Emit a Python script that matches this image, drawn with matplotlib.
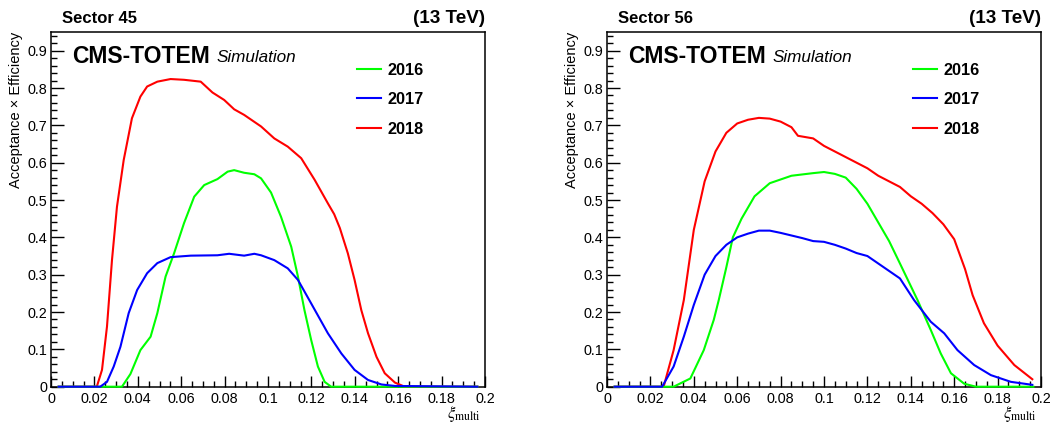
import matplotlib
matplotlib.use("Agg")
import matplotlib.pyplot as plt
from matplotlib.ticker import MultipleLocator, FuncFormatter

plt.rcParams['font.family'] = ['Liberation Sans', 'DejaVu Sans']
plt.rcParams['mathtext.fontset'] = 'stix'

years = ['2016', '2017', '2018']
colors = {'2016': '#00ff00', '2017': '#0000ff', '2018': '#ff0000'}
sectors = ['Sector 45', 'Sector 56']

# sector 45
s45_x_2018 = [0.0035, 0.02, 0.0211, 0.0235, 0.0258, 0.0281, 0.0304, 0.0335, 0.0373, 0.0412, 0.0443,
              0.049, 0.0551, 0.0613, 0.069, 0.0744, 0.0798, 0.0844, 0.089, 0.0968, 0.1029, 0.1091,
              0.1153, 0.1215, 0.1276, 0.1305, 0.1331, 0.1368, 0.1399, 0.143, 0.1461, 0.15, 0.1538,
              0.1585, 0.163, 0.1965]
s45_y_2018 = [0, 0, 0, 0.045, 0.161, 0.339, 0.482, 0.607, 0.719, 0.777, 0.804,
              0.817, 0.824, 0.822, 0.817, 0.788, 0.768, 0.743, 0.728, 0.697, 0.665, 0.643,
              0.612, 0.554, 0.491, 0.462, 0.425, 0.357, 0.286, 0.205, 0.143, 0.080, 0.036,
              0.011, 0, 0]
s45_x_2016 = [0.0035, 0.0327, 0.0366, 0.0412, 0.0459, 0.049, 0.0528, 0.0567, 0.0613, 0.066, 0.0706,
              0.0767, 0.0814, 0.0844, 0.089, 0.0937, 0.0968, 0.1014, 0.106, 0.1107, 0.1138, 0.1168,
              0.1199, 0.123, 0.1261, 0.1291, 0.1965]
s45_y_2016 = [0, 0, 0.034, 0.098, 0.134, 0.197, 0.295, 0.357, 0.438, 0.509, 0.540,
              0.556, 0.576, 0.580, 0.573, 0.569, 0.558, 0.52, 0.455, 0.375, 0.295, 0.205,
              0.125, 0.054, 0.013, 0, 0]
s45_x_2017 = [0.0035, 0.0227, 0.0258, 0.0289, 0.032, 0.0358, 0.0397, 0.0443, 0.049, 0.0551, 0.0644,
              0.0767, 0.0821, 0.089, 0.0937, 0.0968, 0.1029, 0.1091, 0.1138, 0.1199, 0.1276, 0.1338,
              0.1399, 0.1461, 0.1523, 0.1585, 0.1965]
s45_y_2017 = [0, 0, 0.013, 0.054, 0.107, 0.197, 0.259, 0.304, 0.331, 0.347, 0.351,
              0.352, 0.356, 0.351, 0.356, 0.352, 0.339, 0.317, 0.286, 0.223, 0.143, 0.089,
              0.045, 0.018, 0.006, 0.002, 0]

# sector 56
s56_x_2018 = [0.0035, 0.0261, 0.0307, 0.0354, 0.04, 0.045, 0.05, 0.055, 0.06, 0.065, 0.07, 0.075,
              0.08, 0.085, 0.088, 0.092, 0.095, 0.1, 0.105, 0.11, 0.115, 0.12, 0.125, 0.13, 0.135,
              0.14, 0.145, 0.15, 0.155, 0.16, 0.165, 0.1685, 0.1737, 0.18, 0.1877, 0.196]
s56_y_2018 = [0, 0, 0.098, 0.232, 0.42, 0.55, 0.63, 0.68, 0.705, 0.715, 0.72, 0.718,
              0.71, 0.695, 0.672, 0.668, 0.665, 0.645, 0.63, 0.615, 0.6, 0.585, 0.565, 0.55, 0.535,
              0.51, 0.49, 0.465, 0.435, 0.395, 0.315, 0.245, 0.17, 0.11, 0.058, 0.02]
s56_x_2016 = [0.0035, 0.0307, 0.0384, 0.0446, 0.0492, 0.0515, 0.055, 0.058, 0.062, 0.068, 0.075,
              0.085, 0.095, 0.1, 0.105, 0.11, 0.115, 0.12, 0.125, 0.13, 0.135, 0.1431, 0.1492,
              0.1538, 0.1585, 0.1646, 0.17, 0.1965]
s56_y_2016 = [0, 0, 0.022, 0.098, 0.179, 0.232, 0.32, 0.4, 0.45, 0.51, 0.545,
              0.565, 0.572, 0.575, 0.57, 0.56, 0.53, 0.49, 0.44, 0.39, 0.33, 0.232, 0.152,
              0.089, 0.036, 0.008, 0, 0]
s56_x_2017 = [0.0035, 0.0254, 0.0307, 0.0354, 0.04, 0.045, 0.05, 0.055, 0.06, 0.065, 0.07, 0.075,
              0.08, 0.085, 0.09, 0.095, 0.1, 0.105, 0.11, 0.115, 0.12, 0.125, 0.13, 0.135, 0.1415,
              0.1492, 0.1554, 0.1615, 0.1692, 0.1769, 0.1861, 0.196]
s56_y_2017 = [0, 0, 0.054, 0.134, 0.219, 0.30, 0.35, 0.38, 0.40, 0.41, 0.418, 0.418,
              0.412, 0.405, 0.398, 0.39, 0.388, 0.38, 0.37, 0.358, 0.35, 0.33, 0.31, 0.29, 0.232,
              0.174, 0.143, 0.098, 0.058, 0.031, 0.013, 0.005]

curves = [
    {'2016': (s45_x_2016, s45_y_2016), '2017': (s45_x_2017, s45_y_2017), '2018': (s45_x_2018, s45_y_2018)},
    {'2016': (s56_x_2016, s56_y_2016), '2017': (s56_x_2017, s56_y_2017), '2018': (s56_x_2018, s56_y_2018)},
]

W, H = 1060, 430
fig = plt.figure(figsize=(W / 100, H / 100), dpi=100)

ax_left_px = [51, 607]
ax_w_px = 434
ax_bot_px, ax_top_px = 386.7, 32

fmt = FuncFormatter(lambda v, p: '%g' % round(v, 4))

for i, sec in enumerate(sectors):
    l = ax_left_px[i]
    ax = fig.add_axes([l / W, 1 - ax_bot_px / H, ax_w_px / W, (ax_bot_px - ax_top_px) / H])
    handles = {}
    for yr in ['2018', '2016', '2017']:
        xs, ys = curves[i][yr]
        h, = ax.plot(xs, ys, color=colors[yr], lw=1.5, clip_on=False, zorder=3)
        handles[yr] = h
    ax.set_xlim(0, 0.2)
    ax.set_ylim(0, 0.95)
    ax.xaxis.set_major_locator(MultipleLocator(0.02))
    ax.xaxis.set_minor_locator(MultipleLocator(0.005))
    ax.yaxis.set_major_locator(MultipleLocator(0.1))
    ax.yaxis.set_minor_locator(MultipleLocator(0.02))
    ax.xaxis.set_major_formatter(fmt)
    ax.yaxis.set_major_formatter(fmt)
    ax.tick_params(which='both', direction='in', labelsize=10.4, width=1, color='black')
    ax.tick_params(axis='y', which='major', length=9, pad=2.5)
    ax.tick_params(axis='y', which='minor', length=4.5)
    ax.tick_params(axis='x', which='major', length=8, pad=4)
    ax.tick_params(axis='x', which='minor', length=4)
    for sp in ax.spines.values():
        sp.set_linewidth(1.1)

    ax.text(0.049, 0.913, 'CMS-TOTEM', transform=ax.transAxes, fontsize=16.5,
            fontweight='bold', va='baseline', ha='left')
    ax.text(0.381, 0.916, 'Simulation', transform=ax.transAxes, fontsize=12.3,
            style='italic', va='baseline', ha='left')
    ax.legend([handles[y] for y in years], years, loc='upper left',
              bbox_to_anchor=(0.705, 0.914), frameon=False, borderpad=0,
              borderaxespad=0, handlelength=1.5, handletextpad=0.35,
              labelspacing=0.9, prop={'size': 11.7, 'weight': 'bold'})
    ax.text(0.991, -0.088, r'$\xi_{\rm multi}$', transform=ax.transAxes,
            fontsize=12, ha='right', va='baseline')

    fig.text((l + 11) / W, 1 - 23 / H, sec, fontsize=12, fontweight='bold',
             ha='left', va='baseline')
    fig.text((l + ax_w_px) / W, 1 - 23.3 / H, '(13 TeV)', fontsize=13.6,
             fontweight='bold', ha='right', va='baseline')
    fig.text((l - 35) / W, 1 - ax_top_px / H, u'Acceptance \u00d7 Efficiency',
             fontsize=10.5, rotation=90, ha='center', va='top')

fig.savefig('out.png', dpi=100)
